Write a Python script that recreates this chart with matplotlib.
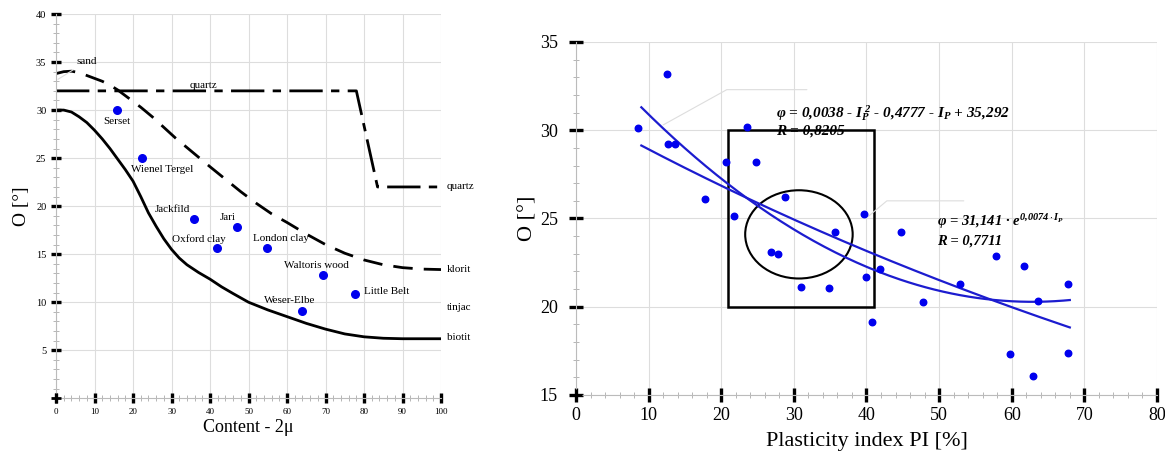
import matplotlib
matplotlib.use('Agg')
import matplotlib.pyplot as plt
import numpy as np
from matplotlib.patches import Rectangle, Ellipse
from matplotlib.ticker import MultipleLocator

plt.rcParams['font.family'] = ['Liberation Serif', 'DejaVu Serif']
plt.rcParams['mathtext.fontset'] = 'custom'
plt.rcParams['mathtext.rm'] = 'Liberation Serif:bold:italic'
plt.rcParams['mathtext.it'] = 'Liberation Serif:bold:italic'
plt.rcParams['mathtext.bf'] = 'Liberation Serif:bold:italic'

# left panel: friction angle vs clay content (curves)
biotit_x = [0, 2, 4, 6, 8, 10, 12, 14, 16, 18, 20, 22, 24, 26, 28, 30, 32, 34, 37, 40,
            43, 46, 50, 55, 60, 65, 70, 75, 80, 85, 90, 100]
biotit_y = [30, 30, 29.8, 29.3, 28.7, 27.9, 27.0, 26.0, 24.9, 23.8, 22.6, 21.0, 19.3,
            17.9, 16.6, 15.5, 14.6, 13.9, 13.1, 12.4, 11.6, 10.9, 10.0, 9.2, 8.5, 7.8,
            7.2, 6.7, 6.4, 6.25, 6.2, 6.2]
klorit_x = [0, 2, 4, 6, 8, 10, 12, 14, 16, 18, 20, 22, 25, 28, 31, 34, 37, 40, 44, 48,
            52, 56, 60, 65, 70, 75, 80, 85, 90, 95, 100]
klorit_y = [33.8, 34.0, 34.05, 33.9, 33.6, 33.3, 33.0, 32.6, 32.1, 31.5, 30.9, 30.3,
            29.3, 28.2, 27.1, 26.1, 25.1, 24.1, 22.8, 21.5, 20.3, 19.2, 18.3, 17.1,
            16.0, 15.1, 14.4, 13.9, 13.6, 13.45, 13.4]
quartz_x = [0, 78, 83.5, 100]
quartz_y = [32, 32, 22, 22]

soil_names = ['Serset', 'Wienel Tergel', 'Jackfild', 'Jari', 'Oxford clay',
              'London clay', 'Waltoris wood', 'Little Belt', 'Weser-Elbe']
soil_x = [15.8, 22.4, 35.8, 47.1, 41.7, 54.9, 69.3, 77.6, 63.9]
soil_y = [30.0, 25.0, 18.7, 17.8, 15.65, 15.65, 12.8, 10.9, 9.06]
# label anchor (centre of text) for each soil
label_x = [15.8, 27.6, 30.3, 44.6, 37.1, 58.4, 67.7, 85.9, 60.8]
label_y = [28.8, 23.8, 19.7, 18.8, 16.6, 16.6, 13.8, 11.1, 10.2]

side_labels = ['quartz', 'klorit', 'tinjac', 'biotit']
side_y = [22, 13.4, 9.5, 6.3]

# right panel: friction angle vs plasticity index
pi_vals = [8.6, 12.5, 12.7, 13.6, 17.7, 20.7, 23.6, 24.8, 21.8, 28.8, 35.7,
           26.8, 27.8, 31.0, 34.9, 39.6, 44.8, 39.9, 41.8, 40.8, 47.8, 52.9,
           57.8, 61.7, 63.6, 67.7, 59.8, 67.7, 62.9]
phi_vals = [30.15, 33.2, 29.2, 29.2, 26.1, 28.2, 30.2, 28.2, 25.16, 26.2, 24.25,
            23.1, 23.0, 21.1, 21.05, 25.24, 24.25, 21.7, 22.15, 19.15, 20.25, 21.3,
            22.85, 22.3, 20.3, 21.3, 17.3, 17.4, 16.1]
# fitted curves, coefficients as printed on the chart
poly_a, poly_b, poly_c = 0.0038, -0.4777, 35.292
exp_a, exp_k = 31.141, -0.0074
fit_range = [9, 68]

fig = plt.figure(figsize=(11.65, 4.61), dpi=100)

grid_kw = dict(color='#dddddd', linewidth=0.8)

def style_axes(ax, fs, maj_len, min_len):
    for s in ['top', 'right']:
        ax.spines[s].set_visible(False)
    for s in ['left', 'bottom']:
        ax.spines[s].set_color('#bbbbbb')
        ax.spines[s].set_linewidth(0.8)
    ax.tick_params(which='major', direction='inout', length=maj_len, width=2.4,
                   color='black', labelsize=fs)
    ax.tick_params(which='minor', direction='inout', length=min_len, width=0.6,
                   color='#aaaaaa')
    ax.grid(True, which='major', **grid_kw)
    ax.set_axisbelow(True)

# ---------- left panel ----------
ax1 = fig.add_axes([0.0481, 0.1360, 0.3305, 0.8336])
ax1.set_xlim(0, 100)
ax1.set_ylim(0, 40)
ax1.xaxis.set_major_locator(MultipleLocator(10))
ax1.xaxis.set_minor_locator(MultipleLocator(2))
ax1.yaxis.set_major_locator(MultipleLocator(5))
ax1.yaxis.set_minor_locator(MultipleLocator(1))
style_axes(ax1, 7, 7, 4)
ax1.tick_params(axis='x', labelsize=6.5)
ax1.tick_params(axis='y', labelsize=7.5)
ax1.set_yticks([5, 10, 15, 20, 25, 30, 35, 40])
ax1.set_yticklabels(['5', '10', '15', '20', '25', '30', '35', '40'])

ax1.plot(biotit_x, biotit_y, color='black', lw=2, solid_joinstyle='round')
ax1.plot(klorit_x, klorit_y, color='black', lw=2, dashes=(7, 4))
ax1.plot(quartz_x, quartz_y, color='black', lw=2, dashes=(12, 3, 3, 3))
ax1.scatter(soil_x, soil_y, s=30, color='#0000ee', zorder=5)
for name, lx, ly in zip(soil_names, label_x, label_y):
    ax1.text(lx, ly, name, fontsize=8, ha='center', va='center')
for name, sy in zip(side_labels, side_y):
    ax1.text(101.5, sy, name, fontsize=8, ha='left', va='center')
ax1.text(38.4, 32.6, 'quartz', fontsize=8, ha='center', va='center')
ax1.annotate('sand', xy=(0.5, 33.2), xytext=(8.1, 35.1), fontsize=8,
             ha='center', va='center',
             arrowprops=dict(arrowstyle='-', color='#dddddd', lw=0.8,
                             shrinkA=2, shrinkB=0))
ax1.plot([0], [0], marker='+', color='black', ms=7, mew=2, clip_on=False, zorder=6)

ax1.set_xlabel('Content - 2μ', fontsize=13, labelpad=2)
ax1.set_ylabel('O [°]', fontsize=14, labelpad=4)

# ---------- right panel ----------
ax2 = fig.add_axes([0.4944, 0.1432, 0.4987, 0.7657])
ax2.set_xlim(0, 80)
ax2.set_ylim(15, 35)
ax2.xaxis.set_major_locator(MultipleLocator(10))
ax2.xaxis.set_minor_locator(MultipleLocator(2))
ax2.yaxis.set_major_locator(MultipleLocator(5))
ax2.yaxis.set_minor_locator(MultipleLocator(1))
style_axes(ax2, 13, 10, 5)
ax2.tick_params(axis='y', pad=8)

rect = Rectangle((21, 20), 20, 10, fill=False, edgecolor='black', lw=1.8)
ax2.add_patch(rect)
ell = Ellipse((30.7, 24.1), 14.8, 5.0, fill=False, edgecolor='black', lw=1.5)
ax2.add_patch(ell)

fx = np.linspace(fit_range[0], fit_range[1], 200)
ax2.plot(fx, poly_a * fx ** 2 + poly_b * fx + poly_c, color='#1c1ccf', lw=1.6)
ax2.plot(fx, exp_a * np.exp(exp_k * fx), color='#1c1ccf', lw=1.6)
ax2.scatter(pi_vals, phi_vals, s=22, color='#0000ee', zorder=5)

eq_kw = dict(fontweight='bold', style='italic', ha='left', va='center')
ax2.text(27.6, 31.0, r'φ = 0,0038 - $I_P^{\,2}$ - 0,4777 - $I_P$ + 35,292', fontsize=11, **eq_kw)
ax2.text(27.6, 29.95, 'R = 0,8205', fontsize=11, **eq_kw)
ax2.text(49.7, 24.8, r'φ = 31,141 · $e^{0{,}0074 \cdot I_P}$', fontsize=10.5, **eq_kw)
ax2.text(49.7, 23.7, 'R = 0,7711', fontsize=10.5, **eq_kw)

lead_kw = dict(arrowstyle='-', color='#dddddd', lw=0.8, shrinkA=0, shrinkB=0)
ax2.annotate('', xy=(12, 30.3), xytext=(31.8, 32.3),
             arrowprops=dict(connectionstyle='angle,angleA=0,angleB=29,rad=0', **lead_kw))
ax2.annotate('', xy=(40.2, 25.1), xytext=(53.4, 26.0),
             arrowprops=dict(connectionstyle='angle,angleA=0,angleB=40,rad=0', **lead_kw))
ax2.plot([0], [15], marker='+', color='black', ms=9, mew=2, clip_on=False, zorder=6)

ax2.set_xlabel('Plasticity index PI [%]', fontsize=16, labelpad=6)
ax2.set_ylabel('O [°]', fontsize=16, labelpad=2)

fig.savefig('out.png', dpi=100)
